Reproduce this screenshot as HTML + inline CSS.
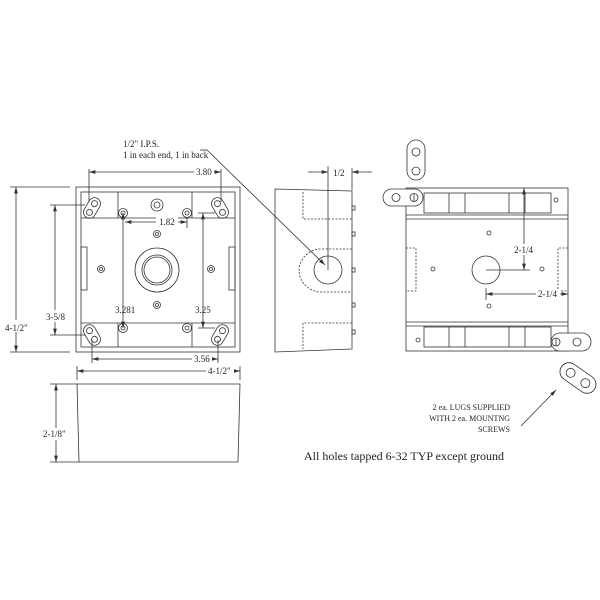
<!DOCTYPE html>
<html><head><style>html,body{margin:0;padding:0;background:#fff}svg{display:block}svg text{font-family:"Liberation Serif","DejaVu Serif",serif !important;fill:#222}</style></head>
<body>
<svg width="600" height="600" viewBox="0 0 600 600" xmlns="http://www.w3.org/2000/svg" font-family="Liberation Serif, serif">
<defs>
<marker id="a" viewBox="0 0 10 6" refX="10" refY="3" markerWidth="8" markerHeight="5" orient="auto-start-reverse"><path d="M0,0L10,3L0,6z" fill="#333"/></marker>
</defs>
<g fill="none" stroke="#333" stroke-width="0.8">
<rect x="76" y="187" width="164" height="165"/>
<rect x="81" y="192" width="154" height="155"/>
<line x1="81" y1="218" x2="235" y2="218"/><line x1="81" y1="323" x2="235" y2="323"/>
<line x1="118" y1="192" x2="118" y2="218"/><line x1="192" y1="192" x2="192" y2="218"/>
<line x1="118" y1="323" x2="118" y2="347"/><line x1="192" y1="323" x2="192" y2="347"/>
<rect x="81" y="247" width="6" height="43"/><rect x="229" y="247" width="6" height="43"/>
<g transform="translate(92,208) rotate(-60)"><rect x="-11" y="-6" width="22" height="12" rx="6"/><circle cx="-5" cy="0" r="3"/><circle cx="5" cy="0" r="3"/></g>
<g transform="translate(220,208) rotate(60)"><rect x="-11" y="-6" width="22" height="12" rx="6"/><circle cx="-5" cy="0" r="3"/><circle cx="5" cy="0" r="3"/></g>
<g transform="translate(92,335) rotate(60)"><rect x="-11" y="-6" width="22" height="12" rx="6"/><circle cx="-5" cy="0" r="3"/><circle cx="5" cy="0" r="3"/></g>
<g transform="translate(220,335) rotate(-60)"><rect x="-11" y="-6" width="22" height="12" rx="6"/><circle cx="-5" cy="0" r="3"/><circle cx="5" cy="0" r="3"/></g>
<circle cx="123" cy="213" r="4.5"/><circle cx="123" cy="213" r="2"/>
<circle cx="187" cy="213" r="4.5"/><circle cx="187" cy="213" r="2"/>
<circle cx="123" cy="328" r="4.5"/><circle cx="123" cy="328" r="2"/>
<circle cx="187" cy="328" r="4.5"/><circle cx="187" cy="328" r="2"/>
<circle cx="157" cy="205" r="6"/><circle cx="157" cy="205" r="3"/>
<circle cx="157" cy="234" r="3.5"/><circle cx="157" cy="234" r="1.5"/>
<circle cx="157" cy="305" r="3.5"/><circle cx="157" cy="305" r="1.5"/>
<circle cx="101" cy="269" r="3.5"/><circle cx="101" cy="269" r="1.5"/>
<circle cx="211" cy="269" r="3.5"/><circle cx="211" cy="269" r="1.5"/>
<circle cx="157" cy="270" r="22"/><circle cx="157" cy="270" r="15"/><circle cx="157" cy="270" r="13"/>
<line x1="89" y1="172" x2="221" y2="172" marker-start="url(#a)" marker-end="url(#a)"/>
<line x1="89" y1="169" x2="89" y2="202"/><line x1="221" y1="169" x2="221" y2="202"/>
<line x1="16" y1="187" x2="16" y2="352" marker-start="url(#a)" marker-end="url(#a)"/>
<line x1="10" y1="187" x2="70" y2="187"/><line x1="10" y1="352" x2="70" y2="352"/>
<line x1="55" y1="205" x2="55" y2="335" marker-start="url(#a)" marker-end="url(#a)"/>
<line x1="50" y1="205" x2="85" y2="205"/><line x1="50" y1="335" x2="85" y2="335"/>
<line x1="125" y1="222" x2="187" y2="222" marker-start="url(#a)" marker-end="url(#a)"/>
<line x1="187" y1="218" x2="187" y2="228"/>
<line x1="123" y1="213" x2="123" y2="328" marker-start="url(#a)" marker-end="url(#a)"/>
<line x1="203" y1="213" x2="203" y2="328" marker-start="url(#a)" marker-end="url(#a)"/>
<line x1="198" y1="213" x2="215" y2="213"/><line x1="198" y1="328" x2="215" y2="328"/>
<line x1="92" y1="359" x2="218" y2="359" marker-start="url(#a)" marker-end="url(#a)"/>
<line x1="92" y1="340" x2="92" y2="363"/><line x1="218" y1="340" x2="218" y2="363"/>
<line x1="77" y1="371" x2="240" y2="371" marker-start="url(#a)" marker-end="url(#a)"/>
<line x1="77" y1="366" x2="77" y2="380"/><line x1="240" y1="366" x2="240" y2="380"/>
<polygon points="77,384 240,384 238,462 79,462"/>
<line x1="56" y1="384" x2="56" y2="462" marker-start="url(#a)" marker-end="url(#a)"/>
<line x1="50" y1="384" x2="77" y2="384"/><line x1="50" y1="462" x2="79" y2="462"/>
<polygon points="275,189 352,191 352,349 275,352"/>
<g stroke-dasharray="2,1.5"><path d="M303,192V219H352"/><path d="M352,323H303V349"/>
<path d="M352,249H318A24,22 0 0 0 318,292H352"/></g>
<circle cx="328" cy="270" r="14"/>
<rect x="352" y="206" width="3" height="4"/><rect x="352" y="232" width="3" height="4"/><rect x="352" y="268" width="3" height="4"/><rect x="352" y="303" width="3" height="4"/><rect x="352" y="330" width="3" height="4"/>
<line x1="308" y1="172" x2="328" y2="172" marker-end="url(#a)"/><line x1="372" y1="172" x2="352" y2="172" marker-end="url(#a)"/>
<line x1="328" y1="166" x2="328" y2="270"/><line x1="352" y1="168" x2="352" y2="190"/>
<line x1="200" y1="150" x2="207" y2="150"/><line x1="207" y1="150" x2="325" y2="265" marker-end="url(#a)"/>
<rect x="406" y="188" width="162" height="163"/>
<line x1="406" y1="219" x2="568" y2="219"/><line x1="406" y1="215" x2="568" y2="215"/>
<line x1="406" y1="322" x2="568" y2="322"/><line x1="406" y1="326" x2="568" y2="326"/>
<rect x="424" y="193" width="127" height="20"/>
<line x1="449" y1="193" x2="449" y2="213"/><line x1="465" y1="193" x2="465" y2="213"/><line x1="509" y1="193" x2="509" y2="213"/><line x1="525" y1="193" x2="525" y2="213"/>
<rect x="424" y="327" width="127" height="20"/>
<line x1="449" y1="327" x2="449" y2="347"/><line x1="465" y1="327" x2="465" y2="347"/><line x1="509" y1="327" x2="509" y2="347"/><line x1="525" y1="327" x2="525" y2="347"/>
<g stroke-dasharray="2,1.5"><path d="M406,248H416V291H406"/><path d="M568,248H558V291H568"/></g>
<circle cx="489" cy="233" r="2"/><circle cx="433" cy="269" r="2"/><circle cx="542" cy="269" r="2"/><circle cx="489" cy="306" r="2"/><circle cx="556" cy="200" r="2"/><circle cx="418" cy="340" r="2"/>
<circle cx="486" cy="270" r="14"/>
<rect x="383" y="189" width="40" height="17" rx="8.5" fill="#fff"/><circle cx="396" cy="197.5" r="4"/><circle cx="414" cy="197.5" r="4"/><line x1="414" y1="193.5" x2="414" y2="201.5"/>
<rect x="407" y="140" width="18" height="40" rx="9"/><circle cx="416" cy="152" r="4"/><circle cx="416" cy="171" r="4"/>
<rect x="551" y="333" width="40" height="18" rx="9" fill="#fff"/><circle cx="556" cy="342" r="4"/><circle cx="577" cy="342" r="4"/><line x1="556" y1="338" x2="556" y2="346"/>
<g transform="translate(578,378) rotate(35)"><rect x="-20" y="-9" width="40" height="18" rx="9"/><circle cx="-9" cy="0" r="4.5"/><circle cx="9" cy="0" r="4.5"/></g>
<line x1="524" y1="188" x2="524" y2="270" marker-start="url(#a)" marker-end="url(#a)"/>
<line x1="486" y1="270" x2="530" y2="270"/>
<line x1="486" y1="294" x2="568" y2="294" marker-start="url(#a)" marker-end="url(#a)"/>
<line x1="486" y1="288" x2="486" y2="300"/>
<line x1="521" y1="426" x2="556" y2="390" marker-end="url(#a)"/>
</g>
<g font-size="9" font-family="Liberation Serif, serif">
<text x="123" y="147">1/2" I.P.S.</text>
<text x="123" y="158">1 in each end, 1 in back</text>
<rect x="194" y="166" width="20" height="10" fill="#fff"/><text x="196" y="175">3.80</text>
<rect x="7" y="320" width="23" height="12" fill="#fff"/><text x="5" y="331">4-1/2"</text>
<rect x="47" y="310" width="20" height="12" fill="#fff"/><text x="46" y="320">3-5/8</text>
<rect x="156" y="216" width="22" height="11" fill="#fff"/><text x="159" y="225">1.82</text>
<text x="115" y="313">3.281</text>
<text x="195" y="313">3.25</text>
<rect x="192" y="354" width="20" height="10" fill="#fff"/><text x="194" y="362">3.56</text>
<rect x="206" y="366" width="28" height="10" fill="#fff"/><text x="208" y="374">4-1/2"</text>
<rect x="44" y="428" width="24" height="12" fill="#fff"/><text x="43" y="437">2-1/8"</text>
<text x="333" y="176">1/2</text>
<rect x="514" y="244" width="22" height="11" fill="#fff"/><text x="514" y="253">2-1/4</text>
<rect x="536" y="289" width="24" height="10" fill="#fff"/><text x="538" y="297">2-1/4</text>
<g font-size="8" text-anchor="end"><text x="510" y="410">2 ea. LUGS SUPPLIED</text><text x="510" y="421">WITH 2 ea. MOUNTNG</text><text x="510" y="432">SCREWS</text></g>
</g>
<text x="304" y="460" font-size="12" font-family="Liberation Serif, serif">All holes tapped 6-32 TYP except ground</text>
</svg>
</body></html>
